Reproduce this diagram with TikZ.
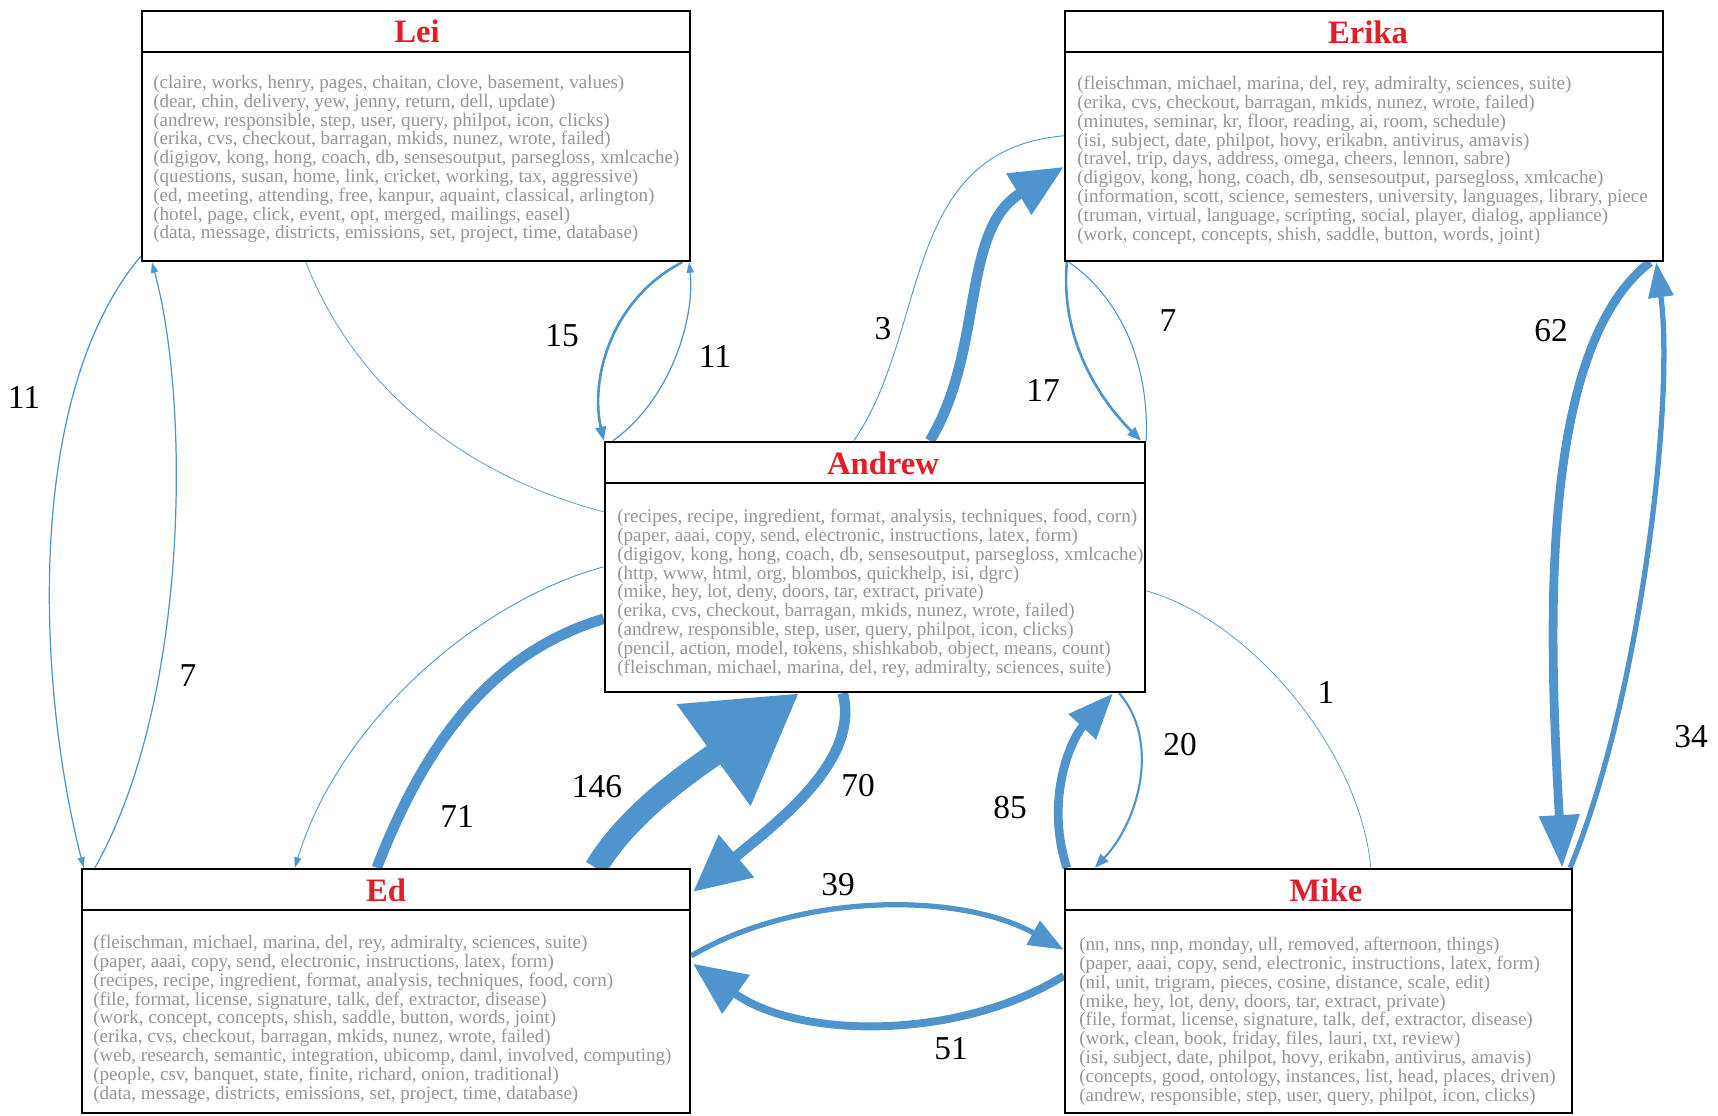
\documentclass[tikz,border=0pt]{standalone}
\usepackage{fontspec}
\setmainfont{Liberation Serif}
\usetikzlibrary{arrows.meta,calc,backgrounds}
\definecolor{edgeblue}{RGB}{79,148,205}
\definecolor{titlered}{RGB}{225,30,40}
\definecolor{wordgray}{RGB}{150,150,150}
\begin{document}
\begin{tikzpicture}[x=0.02cm,y=-0.02cm,
  box/.style={draw=black, line width=1.4pt, fill=white, inner sep=0pt},
  hdr/.style={draw=black, line width=1.4pt},
  title/.style={font=\fontsize{18.6}{20}\selectfont\bfseries, text=titlered},
  words/.style={font=\fontsize{10.85}{10.7}\selectfont, text=wordgray, align=left, inner sep=0pt, anchor=north west},
  lbl/.style={font=\fontsize{19}{20}\selectfont, text=black},
  conn/.style={draw=edgeblue},
  tipS/.style={-{Triangle[length=6pt,width=4pt]}},
  tipM/.style={-{Triangle[length=8pt,width=6pt]}}
]
\useasboundingbox (0,0) rectangle (1718,1116);

% boxes
\node[box, minimum width=10.96cm, minimum height=5cm] (lei) at (416,136) {};
\node[box, minimum width=11.96cm, minimum height=5cm] (erika) at (1364,136) {};
\node[box, minimum width=10.8cm, minimum height=5cm] (andrew) at (875,567) {};
\node[box, minimum width=12.16cm, minimum height=4.88cm] (ed) at (386,991) {};
\node[box, minimum width=10.14cm, minimum height=4.88cm] (mike) at (1318.5,991) {};

\foreach \n in {lei,erika,andrew,ed,mike}{
  \draw[hdr] ($(\n.north west)+(0,42)$) -- ($(\n.north east)+(0,42)$);
}

% titles
\node[title] (leit) at (417,31) {Lei};
\node[title] (erikat) at (1368,32) {Erika};
\node[title] (andrewt) at (883,463) {Andrew};
\node[title] (edt) at (386,890) {Ed};
\node[title] (miket) at (1326,890) {Mike};

% word lists
\node[words] (leiw) at (153,75) {(claire, works, henry, pages, chaitan, clove, basement, values)\\
(dear, chin, delivery, yew, jenny, return, dell, update)\\
(andrew, responsible, step, user, query, philpot, icon, clicks)\\
(erika, cvs, checkout, barragan, mkids, nunez, wrote, failed)\\
(digigov, kong, hong, coach, db, sensesoutput, parsegloss, xmlcache)\\
(questions, susan, home, link, cricket, working, tax, aggressive)\\
(ed, meeting, attending, free, kanpur, aquaint, classical, arlington)\\
(hotel, page, click, event, opt, merged, mailings, easel)\\
(data, message, districts, emissions, set, project, time, database)};

\node[words] (erikaw) at (1077,76) {(fleischman, michael, marina, del, rey, admiralty, sciences, suite)\\
(erika, cvs, checkout, barragan, mkids, nunez, wrote, failed)\\
(minutes, seminar, kr, floor, reading, ai, room, schedule)\\
(isi, subject, date, philpot, hovy, erikabn, antivirus, amavis)\\
(travel, trip, days, address, omega, cheers, lennon, sabre)\\
(digigov, kong, hong, coach, db, sensesoutput, parsegloss, xmlcache)\\
(information, scott, science, semesters, university, languages, library, piece\\
(truman, virtual, language, scripting, social, player, dialog, appliance)\\
(work, concept, concepts, shish, saddle, button, words, joint)};

\node[words] (andreww) at (617,509) {(recipes, recipe, ingredient, format, analysis, techniques, food, corn)\\
(paper, aaai, copy, send, electronic, instructions, latex, form)\\
(digigov, kong, hong, coach, db, sensesoutput, parsegloss, xmlcache)\\
(http, www, html, org, blombos, quickhelp, isi, dgrc)\\
(mike, hey, lot, deny, doors, tar, extract, private)\\
(erika, cvs, checkout, barragan, mkids, nunez, wrote, failed)\\
(andrew, responsible, step, user, query, philpot, icon, clicks)\\
(pencil, action, model, tokens, shishkabob, object, means, count)\\
(fleischman, michael, marina, del, rey, admiralty, sciences, suite)};

\node[words] (edw) at (93,935) {(fleischman, michael, marina, del, rey, admiralty, sciences, suite)\\
(paper, aaai, copy, send, electronic, instructions, latex, form)\\
(recipes, recipe, ingredient, format, analysis, techniques, food, corn)\\
(file, format, license, signature, talk, def, extractor, disease)\\
(work, concept, concepts, shish, saddle, button, words, joint)\\
(erika, cvs, checkout, barragan, mkids, nunez, wrote, failed)\\
(web, research, semantic, integration, ubicomp, daml, involved, computing)\\
(people, csv, banquet, state, finite, richard, onion, traditional)\\
(data, message, districts, emissions, set, project, time, database)};

\node[words] (mikew) at (1079,937) {(nn, nns, nnp, monday, ull, removed, afternoon, things)\\
(paper, aaai, copy, send, electronic, instructions, latex, form)\\
(nil, unit, trigram, pieces, cosine, distance, scale, edit)\\
(mike, hey, lot, deny, doors, tar, extract, private)\\
(file, format, license, signature, talk, def, extractor, disease)\\
(work, clean, book, friday, files, lauri, txt, review)\\
(isi, subject, date, philpot, hovy, erikabn, antivirus, amavis)\\
(concepts, good, ontology, instances, list, head, places, driven)\\
(andrew, responsible, step, user, query, philpot, icon, clicks)};

% connectors
\begin{scope}[on background layer]
% Lei <-> Ed
\draw[conn, line width=0.7pt, tipS] ($(lei.south west)+(0,-6)$) .. controls (20,400) and (40,700) .. ($(ed.north west)+(3,0)$);
\draw[conn, line width=0.7pt, tipS] ($(ed.north west)+(14,0)$) .. controls (190,700) and (190,400) .. ($(lei.south west)+(11,0)$);
% Lei <-> Andrew
\draw[conn, line width=1.5pt, tipM] ($(lei.south east)+(-9,0)$) .. controls (610,300) and (590,380) .. (andrew.north west);
\draw[conn, line width=0.7pt, tipS] ($(andrew.north west)+(9,0)$) .. controls (670,400) and (695,320) .. ($(lei.south east)+(-2,0)$);
\draw[conn, line width=0.4pt] ($(lei.south west)+(165,0)$) .. controls (360,400) and (480,480) .. ($(andrew.north west)+(0,71)$);
% Andrew <-> Erika
\draw[conn, line width=0.5pt] ($(andrew.north west)+(250,0)$) .. controls (930,330) and (900,150) .. ($(erika.north west)+(0,126)$);
\draw[conn, line width=6pt, -{Triangle[length=30pt,width=26pt]}] ($(andrew.north west)+(326,0)$) .. controls (985,350) and (960,230) .. ($(erika.north west)+(0,157)$);
\draw[conn, line width=1.5pt, tipM] ($(erika.south west)+(3,0)$) .. controls (1060,340) and (1100,400) .. ($(andrew.north east)+(-5,0)$);
\draw[conn, line width=0.6pt] (andrew.north east) .. controls (1150,350) and (1110,290) .. ($(erika.south west)+(5,0)$);
% Erika <-> Mike
\draw[conn, line width=5pt, -{Triangle[length=30pt,width=22pt]}] ($(erika.south east)+(-14,0)$) .. controls (1535,350) and (1550,650) .. ($(mike.north east)+(-11,0)$);
\draw[conn, line width=3pt, -{Triangle[length=20pt,width=14pt]}] ($(mike.north east)+(-3,0)$) .. controls (1640,700) and (1675,400) .. ($(erika.south east)+(-8,0)$);
% Andrew <-> Mike
\draw[conn, line width=0.4pt] ($(andrew.north east)+(0,150)$) .. controls (1250,620) and (1360,750) .. ($(mike.north west)+(307,0)$);
\draw[conn, line width=5pt, -{Triangle[length=26pt,width=20pt]}] ($(mike.north west)+(3,0)$) .. controls (1045,800) and (1070,740) .. ($(andrew.south east)+(-33,0)$);
\draw[conn, line width=1.2pt, tipM] ($(andrew.south east)+(-27,0)$) .. controls (1160,740) and (1140,820) .. ($(mike.north west)+(31,0)$);
% Andrew <-> Ed
\draw[conn, line width=6pt] ($(ed.north west)+(296,0)$) .. controls (430,730) and (500,650) .. ($(andrew.north west)+(0,178)$);
\draw[conn, line width=13pt, -{Triangle[length=60pt,width=68pt]}] ($(ed.north west)+(515,0)$) .. controls (630,810) and (700,765) .. ($(andrew.south west)+(195,0)$);
\draw[conn, line width=6pt, -{Triangle[length=32pt,width=30pt]}] ($(andrew.south west)+(239,0)$) .. controls (860,760) and (780,820) .. ($(ed.north east)+(2,24)$);
\draw[conn, line width=0.5pt, tipS] ($(andrew.north west)+(0,126)$) .. controls (480,600) and (340,720) .. ($(ed.north west)+(214,0)$);
% Ed <-> Mike
\draw[conn, line width=3pt, -{Triangle[length=20pt,width=15pt]}] ($(ed.north east)+(0,88)$) .. controls (800,892) and (960,892) .. ($(mike.north west)+(0,82)$);
\draw[conn, line width=4.5pt, -{Triangle[length=30pt,width=26pt]}] ($(mike.north west)+(0,108)$) .. controls (960,1040) and (800,1040) .. ($(ed.north east)+(2,96)$);
\end{scope}

% edge labels
\node[lbl] (n11a) at (24,397) {11};
\node[lbl] (n7a) at (188,676) {7};
\node[lbl] (n15) at (562,336) {15};
\node[lbl] (n11b) at (715,356) {11};
\node[lbl] (n3) at (883,329) {3};
\node[lbl] (n17) at (1043,390) {17};
\node[lbl] (n7b) at (1168,321) {7};
\node[lbl] (n62) at (1551,331) {62};
\node[lbl] (n34) at (1691,737) {34};
\node[lbl] (n1) at (1326,692) {1};
\node[lbl] (n20) at (1180,745) {20};
\node[lbl] (n85) at (1010,808) {85};
\node[lbl] (n146) at (597,787) {146};
\node[lbl] (n70) at (858,786) {70};
\node[lbl] (n71) at (457,816) {71};
\node[lbl] (n39) at (838,885) {39};
\node[lbl] (n51) at (951,1049) {51};
\end{tikzpicture}
\end{document}
